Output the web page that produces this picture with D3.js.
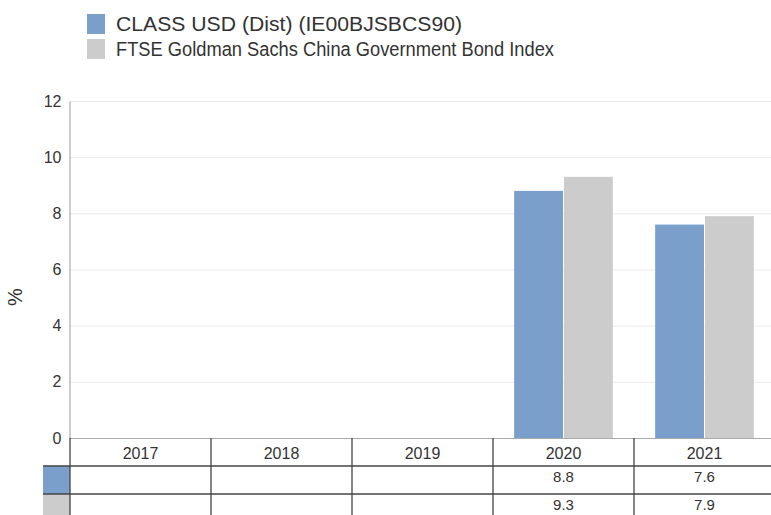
<!DOCTYPE html>
<html>
  <head>
    <meta charset="utf-8">
    <title>Annual performance</title>
    <script src="https://cdn.jsdelivr.net/npm/d3@7"></script>
    <style>
      body { margin: 0; background: #fff; }
      text { font-family: "Liberation Sans", Arial, sans-serif; fill: #333; }
    </style>
  </head>
  <body>
    <svg id="chart" width="771" height="515"></svg>
    <script>
      // data
      years = ["2017", "2018", "2019", "2020", "2021"];
      seriesNames = ["CLASS USD (Dist) (IE00BJSBCS90)", "FTSE Goldman Sachs China Government Bond Index"];
      fundValues = [null, null, null, 8.8, 7.6];
      indexValues = [null, null, null, 9.3, 7.9];
      yTicks = [0, 2, 4, 6, 8, 10, 12];
      colours = ["#7a9fcb", "#cccccc"];

      series = [fundValues, indexValues];

      // layout
      svg = d3.select("#chart");
      plotLeft = 70; plotRight = 775; plotTop = 101; plotBottom = 438;
      rowH = 28;
      legendWidths = [346, 438];

      x = d3.scaleBand().domain(years).range([plotLeft, plotRight]);
      xInner = d3.scaleBand().domain([0, 1])
        .range([x.bandwidth() * 0.15, x.bandwidth() * 0.85])
        .paddingInner(0.02);
      y = d3.scaleLinear().domain([0, 12]).range([plotBottom, plotTop]);

      // legend
      legend = svg.append("g").attr("transform", "translate(87, 14)");
      seriesNames.forEach(function(name, i) {
        legend.append("rect")
          .attr("x", 0).attr("y", i * 25)
          .attr("width", 18).attr("height", 20)
          .attr("fill", colours[i]);
        legend.append("text")
          .attr("x", 29).attr("y", i * 25 + 17)
          .attr("textLength", legendWidths[i])
          .attr("lengthAdjust", "spacingAndGlyphs")
          .style("font-size", "20px")
          .text(name);
      });

      // grid
      svg.append("g").selectAll("line")
        .data(yTicks.slice(1))
      .enter().append("line")
        .attr("x1", plotLeft).attr("x2", plotRight)
        .attr("y1", function(d) { return y(d) + 0.5; })
        .attr("y2", function(d) { return y(d) + 0.5; })
        .attr("stroke", "#ebebeb");

      // y axis
      yAxis = d3.axisLeft(y).tickValues(yTicks).tickSize(0).tickPadding(8);
      yGroup = svg.append("g")
        .attr("transform", "translate(" + (plotLeft - 0.5) + ",0)")
        .call(yAxis);
      yGroup.select(".domain").attr("stroke", "#999");
      yGroup.selectAll("text")
        .style("font-size", "16px")
        .attr("fill", "#333")
        .attr("font-family", "Liberation Sans, Arial, sans-serif");

      svg.append("text")
        .attr("transform", "translate(22, 297) rotate(-90)")
        .attr("text-anchor", "middle")
        .style("font-size", "20px")
        .text("%");

      // bars
      series.forEach(function(values, i) {
        svg.append("g").selectAll("rect")
          .data(years.map(function(yr, j) { return { year: yr, v: values[j] }; })
            .filter(function(d) { return d.v != null; }))
        .enter().append("rect")
          .attr("x", function(d) { return x(d.year) + xInner(i); })
          .attr("width", xInner.bandwidth())
          .attr("y", function(d) { return y(d.v); })
          .attr("height", function(d) { return y(0) - y(d.v); })
          .attr("fill", colours[i]);
      });

      // table
      table = svg.append("g");
      table.append("line")
        .attr("x1", plotLeft).attr("x2", plotRight)
        .attr("y1", plotBottom + 0.5).attr("y2", plotBottom + 0.5)
        .attr("stroke", "#aaa");

      // swatches in table
      series.forEach(function(values, i) {
        table.append("rect")
          .attr("x", 43).attr("y", plotBottom + rowH * (i + 1))
          .attr("width", plotLeft - 43).attr("height", rowH)
          .attr("fill", colours[i]);
      });

      [1, 2].forEach(function(r) {
        table.append("line")
          .attr("x1", 43).attr("x2", plotRight)
          .attr("y1", plotBottom + rowH * r).attr("y2", plotBottom + rowH * r)
          .attr("stroke", "#444").attr("stroke-width", 1.5);
      });

      table.selectAll(".vline")
        .data(years.concat(["end"]))
      .enter().append("line")
        .attr("x1", function(d) { return d == "end" ? plotRight : x(d); })
        .attr("x2", function(d) { return d == "end" ? plotRight : x(d); })
        .attr("y1", plotBottom).attr("y2", 515)
        .attr("stroke", "#444").attr("stroke-width", 1.3);

      table.selectAll(".year")
        .data(years)
      .enter().append("text")
        .attr("x", function(d) { return x(d) + x.bandwidth() / 2; })
        .attr("y", plotBottom + 21)
        .attr("text-anchor", "middle")
        .style("font-size", "16px")
        .text(function(d) { return d; });

      series.forEach(function(values, i) {
        table.append("g").selectAll("text")
          .data(years.map(function(yr, j) { return { year: yr, v: values[j] }; })
            .filter(function(d) { return d.v != null; }))
        .enter().append("text")
          .attr("x", function(d) { return x(d.year) + x.bandwidth() / 2; })
          .attr("y", plotBottom + rowH * (i + 1) + 16)
          .attr("text-anchor", "middle")
          .style("font-size", "15px")
          .text(function(d) { return d3.format(".1f")(d.v); });
      });
    </script>
  </body>
</html>
